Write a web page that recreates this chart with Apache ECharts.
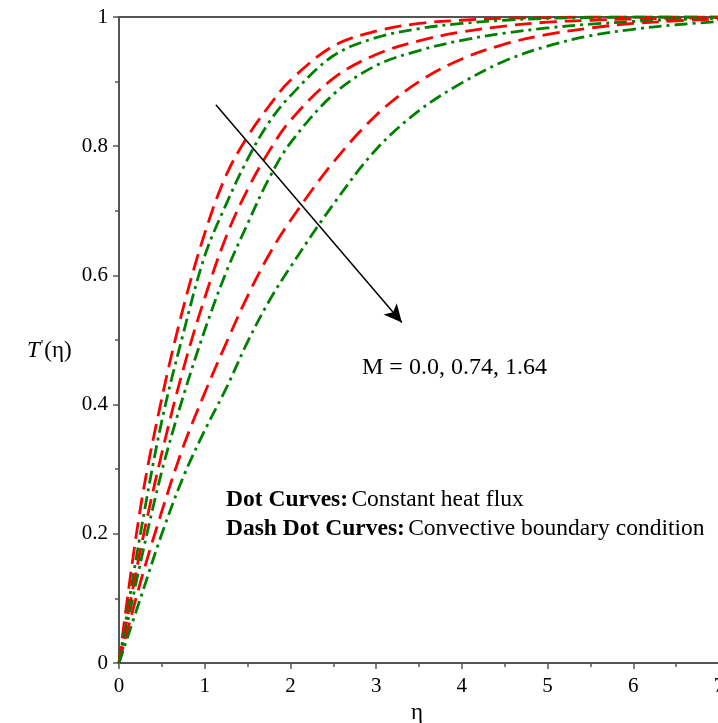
<!DOCTYPE html>
<html><head><meta charset="utf-8">
<script src="https://cdn.jsdelivr.net/npm/echarts@6/dist/echarts.min.js"></script>
<style>html,body{margin:0;padding:0;background:#fff}#c{width:718px;height:723px}</style>
</head><body><div id="c"></div>
<script>
const eta = [0,0.25,0.5,0.75,1,1.25,1.5,1.75,2,2.5,3,3.5,4,4.5,5,5.5,6,6.5,7];
const red1   = [0,0.24,0.41,0.55,0.665,0.755,0.815,0.862,0.902,0.955,0.978,0.99,0.995,0.998,0.999,1,1,1,1];
const green1 = [0,0.20,0.375,0.51,0.63,0.71,0.78,0.837,0.878,0.94,0.968,0.982,0.99,0.995,0.998,0.999,1,1,1];
const red2   = [0,0.175,0.325,0.455,0.565,0.66,0.733,0.792,0.84,0.905,0.942,0.963,0.977,0.986,0.992,0.995,0.997,0.998,0.999];
const green2 = [0,0.155,0.297,0.413,0.515,0.605,0.68,0.75,0.805,0.88,0.925,0.948,0.964,0.975,0.983,0.989,0.993,0.996,0.998];
const red3   = [0,0.125,0.235,0.335,0.418,0.495,0.568,0.632,0.685,0.775,0.848,0.9,0.935,0.958,0.973,0.983,0.99,0.994,0.997];
const green3 = [0,0.1,0.2,0.288,0.36,0.425,0.497,0.56,0.613,0.71,0.795,0.855,0.898,0.932,0.955,0.971,0.981,0.988,0.993];
const xTicks = [0,1,2,3,4,5,6,7];
const yTicks = [0,0.2,0.4,0.6,0.8,1];
const arrowStart = [1.13, 0.864];
const arrowEnd = [3.30, 0.527];
const mLabel = 'M = 0.0, 0.74, 1.64';

const FONT = '"Liberation Serif", "Times New Roman", serif';
const axisColor = '#555';
function pairs(ys){ return eta.map((x,i)=>[x, ys[i]]); }
function mkSeries(ys, kind){
  const red = kind === 'red';
  return {
    type:'line', data: pairs(ys), smooth:0.35, showSymbol:false, symbol:'none',
    lineStyle:{ color: red ? '#ff0000' : '#008000', width: 2.8, type: red ? [17,8] : [13,5,3,5], cap:'butt' },
    z: 3
  };
}
const series = [
  mkSeries(red1,'red'), mkSeries(green1,'green'),
  mkSeries(red2,'red'), mkSeries(green2,'green'),
  mkSeries(red3,'red'), mkSeries(green3,'green')
];
series.push({
  type:'line', data:[], symbol:'none',
  markLine:{
    silent:true, symbol:['none','arrow'], symbolSize:[13,18], label:{show:false},
    lineStyle:{color:'#000', width:1.5, type:'solid'},
    data:[[{coord:arrowStart},{coord:arrowEnd}]]
  }, z:5
});

const axisCommon = {
  axisLine:{show:true, lineStyle:{color:axisColor, width:2}},
  axisTick:{show:true, length:6, lineStyle:{color:axisColor, width:1.5}},
  minorTick:{show:true, splitNumber:2, length:4, lineStyle:{color:axisColor, width:1.5}},
  splitLine:{show:false},
  axisLabel:{fontFamily:FONT, fontSize:21, color:'#000'}
};

const option = {
  animation:false,
  backgroundColor:'#fff',
  grid:{left:119, right:-1, top:17, bottom:60, containLabel:false, outerBoundsMode:'none'},
  xAxis:[
    Object.assign({type:'value', min:xTicks[0], max:xTicks[xTicks.length-1], interval:1}, axisCommon,
      {axisLabel:Object.assign({}, axisCommon.axisLabel, {margin:13, showMaxLabel:true})}),
    {type:'value', position:'top', min:0, max:7, axisLine:{show:true, lineStyle:{color:axisColor,width:2}},
     axisTick:{show:false}, axisLabel:{show:false}, splitLine:{show:false}}
  ],
  yAxis:[
    Object.assign({type:'value', min:yTicks[0], max:yTicks[yTicks.length-1], interval:0.2}, axisCommon,
      {axisLabel:Object.assign({}, axisCommon.axisLabel, {margin:11})})
  ],
  series: series,
  graphic:[
    {type:'text', left:362, top:356, style:{text:mLabel, font:'24px '+FONT, fill:'#000'}},
    {type:'text', left:226, top:488, style:{
      text:'{b|Dot Curves:} {n|Constant heat flux}\n{b|Dash Dot Curves:} {n|Convective boundary condition}',
      rich:{ b:{fontFamily:FONT, fontSize:23.5, fontWeight:'bold', fill:'#000', lineHeight:28.5},
             n:{fontFamily:FONT, fontSize:23.5, fill:'#000', lineHeight:28.5} }
    }},
    {type:'text', left:27, top:339, style:{
      text:'{i|T}{s|\'}{n|(η)}',
      rich:{ i:{fontFamily:FONT, fontSize:23, fontStyle:'italic', fill:'#000'},
             s:{fontFamily:FONT, fontSize:14, fill:'#000', verticalAlign:'top', padding:[0,1,10,1]},
             n:{fontFamily:FONT, fontSize:23, fill:'#000'} }
    }},
    {type:'text', left:411, top:701, style:{text:'η', font:'23px '+FONT, fill:'#000'}}
  ]
};
echarts.init(document.getElementById('c')).setOption(option);
</script>
</body></html>
